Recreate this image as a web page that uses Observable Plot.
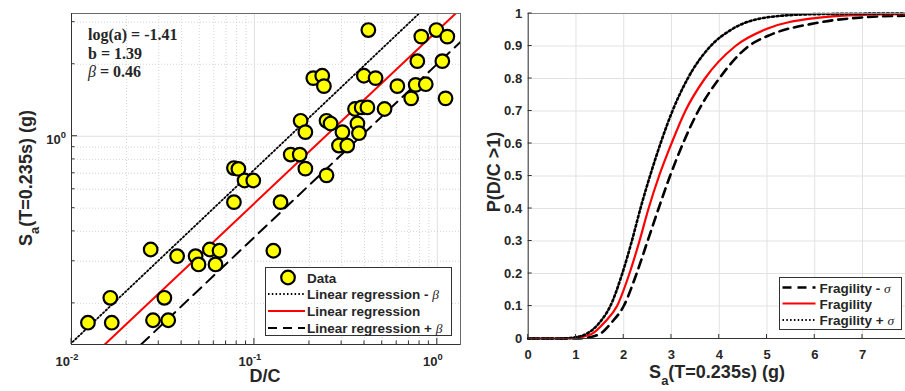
<!DOCTYPE html>
<html><head><meta charset="utf-8">
<script src="https://cdn.jsdelivr.net/npm/d3@7"></script>
<script src="https://cdn.jsdelivr.net/npm/@observablehq/plot@0.6"></script>
<style>
body{margin:0;background:#fff;}
#wrap{position:relative;width:905px;height:391px;overflow:hidden;background:#fff;}
#left,#right{position:absolute;top:0;}
#left{left:0;} #right{left:462px;}
</style></head><body><div id="wrap"><div id="left"></div><div id="right"></div></div>
<script>
// ---------- Left panel data (D/C vs Sa) ----------
const dcValues = [0.42,0.989,0.818,1.135,0.778,1.066,0.21,0.235,0.24,0.397,0.46,0.605,0.762,0.865,0.72,1.11,
  0.355,0.386,0.415,0.515,0.179,0.19,0.248,0.261,0.366,0.373,0.303,0.29,0.322,0.158,0.177,0.19,0.248,
  0.0773,0.0818,0.0884,0.0986,0.0773,0.139,0.127,0.0271,0.0378,0.0477,0.0495,0.0571,0.0645,0.0613,
  0.0163,0.0322,0.0123,0.0166,0.0279,0.0338];
const saValues = [2.78,2.78,2.61,2.61,2.06,2.06,1.75,1.79,1.62,1.79,1.75,1.62,1.64,1.65,1.44,1.44,
  1.30,1.32,1.32,1.30,1.16,1.04,1.16,1.13,1.13,1.03,1.04,0.914,0.914,0.838,0.838,0.732,0.686,
  0.736,0.73,0.653,0.653,0.53,0.53,0.332,0.336,0.315,0.315,0.291,0.336,0.332,0.291,
  0.211,0.211,0.166,0.166,0.17,0.17];
// regression lines (end points)
const regDC = [0.0152, 1.26],       regSA = [0.1346, 3.26];
const regMinusDC = [0.0098, 0.795], regMinusSA = [0.1346, 3.26];
const regPlusDC = [0.024, 1.34],    regPlusSA = [0.1346, 2.48];
const annotA = "log(a) = -1.41", annotB = "b = 1.39", annotBeta = " = 0.46";
const leftLegend = ["Data", "Linear regression - ", "Linear regression", "Linear regression + "];
const xTickValues = [0.01, 0.1, 1], xTickExps = ["-2", "-1", "0"];
const yTickValues = [1], yTickExps = ["0"];
const xGridL = [0.01,0.02,0.03,0.04,0.05,0.06,0.07,0.08,0.09,0.1,0.2,0.3,0.4,0.5,0.6,0.7,0.8,0.9,1];
const yGridL = [0.2,0.3,0.4,0.5,0.6,0.7,0.8,0.9,1,2,3];

// ---------- Right panel data (fragility curves) ----------
const fragPlusSa = [0,0.7,0.95,1.23,1.5,1.72,1.97,2.17,2.35,2.55,2.77,3.02,3.34,3.82,4.25,5.0,6.0,7.9];
const fragPlusP  = [0,0,0.003,0.015,0.05,0.1,0.2,0.3,0.4,0.5,0.6,0.7,0.8,0.9,0.95,0.988,0.998,1];
const fragSa = [0,0.8,1.0,1.16,1.34,1.6,1.86,2.12,2.33,2.52,2.74,3.0,3.29,3.7,4.34,5.0,6.0,7.0,7.9];
const fragP  = [0,0,0.002,0.006,0.015,0.05,0.1,0.2,0.3,0.4,0.5,0.6,0.7,0.8,0.9,0.953,0.986,0.996,0.998];
const fragMinusSa = [0,1.0,1.2,1.51,1.75,2.0,2.27,2.5,2.73,2.97,3.24,3.56,4.0,4.62,5.0,6.0,7.0,7.9];
const fragMinusP  = [0,0,0.002,0.015,0.05,0.1,0.2,0.3,0.4,0.5,0.6,0.7,0.8,0.9,0.93,0.97,0.988,0.993];
const rxTicks = [0,1,2,3,4,5,6,7];
const ryTicks = [0,0.1,0.2,0.3,0.4,0.5,0.6,0.7,0.8,0.9,1];
const ryTickLabels = ["0","0.1","0.2","0.3","0.4","0.5","0.6","0.7","0.8","0.9","1"];
const rightLegend = ["Fragility - ", "Fragility", "Fragility + "];

const SANS = "Liberation Sans, Arial, Helvetica, sans-serif";
const SERIF = "Liberation Serif, Times New Roman, serif";
const TXT = "#262626";
const DOT = "1.5,2.3";

const zip = (xs, ys, kx, ky) => xs.map((v, i) => ({[kx]: v, [ky]: ys[i]}));

function richText(svg, x, y, parts, o = {}) {
  const size = o.size || 14;
  const t = svg.append("text")
    .attr("transform", `translate(${x},${y})` + (o.rotate ? ` rotate(${o.rotate})` : ""))
    .attr("font-family", o.family || SANS).attr("font-size", size)
    .attr("font-weight", o.weight || "bold").attr("text-anchor", o.anchor || "start")
    .attr("fill", o.fill || TXT);
  let shift = 0;
  for (const p of parts) {
    const s = t.append("tspan").text(p.t);
    const want = p.sub ? size * 0.4 : p.sup ? -size * 0.45 : 0;
    if (want !== shift) s.attr("dy", want - shift);
    shift = want;
    if (p.sub || p.sup) s.attr("font-size", size * 0.72);
    if (p.italic) s.attr("font-style", "italic");
    if (p.family) s.attr("font-family", p.family);
    if (p.weight) s.attr("font-weight", p.weight);
  }
  return t;
}

// ================= LEFT =================
const pts = zip(dcValues, saValues, "dc", "sa");
const left = Plot.plot({
  width: 462, height: 391,
  marginLeft: 71, marginRight: 2, marginTop: 13, marginBottom: 47,
  style: {background: "white", overflow: "visible", fontFamily: SANS},
  x: {type: "log", domain: [0.01, 1.34], axis: null},
  y: {type: "log", domain: [0.1346, 3.26], axis: null},
  marks: [
    Plot.ruleX(xGridL.filter(v => !xTickValues.includes(v)), {stroke: "#d4d4d4", strokeDasharray: "1,2"}),
    Plot.ruleX(xTickValues, {stroke: "#e0e0e0"}),
    Plot.ruleY(yGridL.filter(v => !yTickValues.includes(v)), {stroke: "#d4d4d4", strokeDasharray: "1,2"}),
    Plot.ruleY(yTickValues, {stroke: "#e0e0e0"}),
    Plot.line(zip(regMinusDC, regMinusSA, "dc", "sa"), {x: "dc", y: "sa", stroke: "black", strokeWidth: 1.8, strokeDasharray: DOT, clip: true}),
    Plot.line(zip(regDC, regSA, "dc", "sa"), {x: "dc", y: "sa", stroke: "#ff0000", strokeWidth: 2, clip: true}),
    Plot.line(zip(regPlusDC, regPlusSA, "dc", "sa"), {x: "dc", y: "sa", stroke: "black", strokeWidth: 2, strokeDasharray: "11,7", clip: true}),
    Plot.dot(pts, {x: "dc", y: "sa", r: 6.8, fill: "#ffff00", stroke: "black", strokeWidth: 2.2}),
    Plot.frame({stroke: "#6a6a6a"}),
    Plot.ruleX([0.01], {stroke: "#333", strokeWidth: 1}),
    Plot.ruleY([0.1346], {stroke: "#333", strokeWidth: 1})
  ]
});
document.getElementById("left").appendChild(left);
{
  const svg = d3.select(left);
  const sx = left.scale("x"), sy = left.scale("y");
  const x0 = sx.apply(0.01), yb = sy.apply(0.1346);
  xGridL.forEach(v => svg.append("line").attr("x1", sx.apply(v)).attr("x2", sx.apply(v))
    .attr("y1", yb).attr("y2", yb - (xTickValues.includes(v) ? 6 : 3.5)).attr("stroke", "#333"));
  yGridL.forEach(v => svg.append("line").attr("y1", sy.apply(v)).attr("y2", sy.apply(v))
    .attr("x1", x0).attr("x2", x0 + (yTickValues.includes(v) ? 6 : 3.5)).attr("stroke", "#333"));
  xTickValues.forEach((v, i) => richText(svg, sx.apply(v) - 4, 366, [{t: "10"}, {t: xTickExps[i], sup: true}], {size: 13, anchor: "middle"}));
  yTickValues.forEach((v, i) => richText(svg, x0 - 5, sy.apply(v) + 8, [{t: "10"}, {t: yTickExps[i], sup: true}], {size: 13, anchor: "end"}));
  richText(svg, 265, 382, [{t: "D/C"}], {size: 18, anchor: "middle"});
  richText(svg, 32, 178, [{t: "S"}, {t: "a", sub: true}, {t: "(T=0.235s) (g)"}], {size: 18, anchor: "middle", rotate: -90});
  richText(svg, 88, 40, [{t: annotA}], {size: 16, family: SERIF});
  richText(svg, 88, 59, [{t: annotB}], {size: 16, family: SERIF});
  richText(svg, 88, 77, [{t: "β", italic: true, weight: "normal"}, {t: annotBeta}], {size: 16, family: SERIF});
  svg.append("rect").attr("x", 265.5).attr("y", 267.5).attr("width", 186).attr("height", 68)
    .attr("fill", "white").attr("stroke", "#333").attr("stroke-width", 1);
  const ly = [277.5, 294, 311, 328];
  svg.append("circle").attr("cx", 288).attr("cy", ly[0]).attr("r", 6.8).attr("fill", "#ffff00").attr("stroke", "black").attr("stroke-width", 2.2);
  svg.append("line").attr("x1", 268).attr("x2", 305).attr("y1", ly[1]).attr("y2", ly[1]).attr("stroke", "black").attr("stroke-width", 1.8).attr("stroke-dasharray", DOT);
  svg.append("line").attr("x1", 268).attr("x2", 305).attr("y1", ly[2]).attr("y2", ly[2]).attr("stroke", "#ff0000").attr("stroke-width", 2);
  svg.append("line").attr("x1", 268).attr("x2", 305).attr("y1", ly[3]).attr("y2", ly[3]).attr("stroke", "black").attr("stroke-width", 2).attr("stroke-dasharray", "9,6");
  richText(svg, 307, ly[0] + 5, [{t: leftLegend[0]}], {size: 13.5});
  richText(svg, 307, ly[1] + 5, [{t: leftLegend[1]}, {t: "β", italic: true, weight: "normal", family: SERIF}], {size: 13.5});
  richText(svg, 307, ly[2] + 5, [{t: leftLegend[2]}], {size: 13.5});
  richText(svg, 307, ly[3] + 5, [{t: leftLegend[3]}, {t: "β", italic: true, weight: "normal", family: SERIF}], {size: 13.5});
}

// ================= RIGHT =================
const right = Plot.plot({
  width: 443, height: 391,
  marginLeft: 65.7, marginRight: 0, marginTop: 13, marginBottom: 53,
  style: {background: "white", overflow: "visible", fontFamily: SANS},
  x: {type: "linear", domain: [0, 7.9], axis: null},
  y: {type: "linear", domain: [0, 1], axis: null},
  marks: [
    Plot.ruleX(rxTicks, {stroke: "#e2e2e2"}),
    Plot.ruleY(ryTicks, {stroke: "#e2e2e2"}),
    Plot.line(zip(fragMinusSa, fragMinusP, "sa", "p"), {x: "sa", y: "p", stroke: "black", strokeWidth: 2.6, strokeDasharray: "9,6", curve: "monotone-x"}),
    Plot.line(zip(fragSa, fragP, "sa", "p"), {x: "sa", y: "p", stroke: "#ff0000", strokeWidth: 2.2, curve: "monotone-x"}),
    Plot.line(zip(fragPlusSa, fragPlusP, "sa", "p"), {x: "sa", y: "p", stroke: "black", strokeWidth: 2.6, strokeDasharray: "2,2.6", curve: "monotone-x"}),
    Plot.ruleY([1], {stroke: "#8a8a8a"}),
    Plot.ruleX([0], {stroke: "#333"}),
    Plot.ruleY([0], {stroke: "#333"}),
    Plot.text(rxTicks, {x: d => d, y: () => 0, dy: 11, text: d => String(d), fontSize: 13, fontWeight: "bold", fill: TXT, lineAnchor: "top"}),
    Plot.text(ryTicks, {x: () => 0, y: d => d, dx: -6, text: (d, i) => ryTickLabels[i], fontSize: 13, fontWeight: "bold", fill: TXT, textAnchor: "end"})
  ]
});
document.getElementById("right").appendChild(right);
{
  const svg = d3.select(right);
  const sx = right.scale("x"), sy = right.scale("y");
  const x0 = sx.apply(0), yb = sy.apply(0);
  ryTicks.forEach(v => svg.append("line").attr("x1", x0).attr("x2", x0 + 4).attr("y1", sy.apply(v)).attr("y2", sy.apply(v)).attr("stroke", "#333"));
  rxTicks.forEach(v => svg.append("line").attr("x1", sx.apply(v)).attr("x2", sx.apply(v)).attr("y1", yb).attr("y2", yb - 4).attr("stroke", "#333"));
  richText(svg, 255, 378, [{t: "S"}, {t: "a", sub: true}, {t: "(T=0.235s) (g)"}], {size: 18, anchor: "middle"});
  richText(svg, 38, 172, [{t: "P(D/C >1)"}], {size: 18, anchor: "middle", rotate: -90});
  const lx = 779.5 - 462;
  svg.append("rect").attr("x", lx).attr("y", 277.5).attr("width", 122).attr("height", 52)
    .attr("fill", "white").attr("stroke", "#333").attr("stroke-width", 1);
  const ly = [287.5, 303.5, 320];
  svg.append("line").attr("x1", lx + 3).attr("x2", lx + 36).attr("y1", ly[0]).attr("y2", ly[0]).attr("stroke", "black").attr("stroke-width", 2.6).attr("stroke-dasharray", "9,6");
  svg.append("line").attr("x1", lx + 3).attr("x2", lx + 36).attr("y1", ly[1]).attr("y2", ly[1]).attr("stroke", "#ff0000").attr("stroke-width", 2.2);
  svg.append("line").attr("x1", lx + 3).attr("x2", lx + 36).attr("y1", ly[2]).attr("y2", ly[2]).attr("stroke", "black").attr("stroke-width", 1.8).attr("stroke-dasharray", DOT);
  richText(svg, lx + 40, ly[0] + 5, [{t: rightLegend[0]}, {t: "σ", italic: true, weight: "normal", family: SERIF}], {size: 13.5});
  richText(svg, lx + 40, ly[1] + 5, [{t: rightLegend[1]}], {size: 13.5});
  richText(svg, lx + 40, ly[2] + 5, [{t: rightLegend[2]}, {t: "σ", italic: true, weight: "normal", family: SERIF}], {size: 13.5});
}
</script></body></html>
